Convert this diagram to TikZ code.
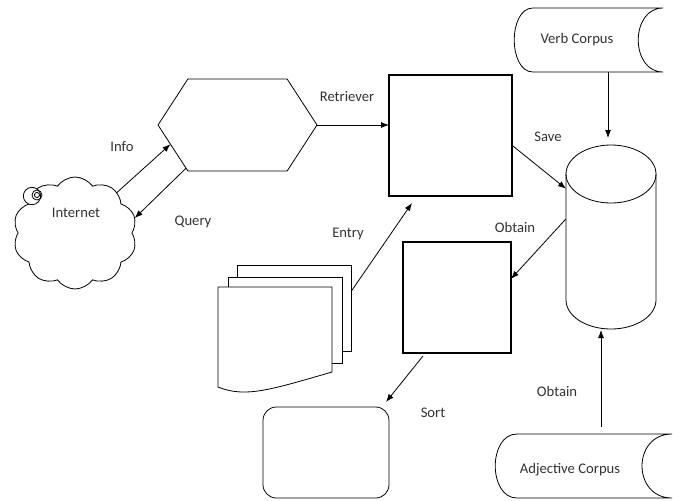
\documentclass[tikz,border=0pt]{standalone}
\usepackage{fontspec}
\setmainfont{Carlito}
\usepackage{tikz}
\usetikzlibrary{shapes.geometric,shapes.symbols,arrows.meta,calc,positioning}

\begin{document}
\begin{tikzpicture}[x=0.75pt, y=-0.75pt, >={Latex[length=6pt,width=4.5pt]}]
	\tikzstyle{every node} = [font=\fontsize{11}{13}\selectfont, text=black!80, inner sep=0pt, outer sep=0pt]
	\tikzstyle{box} = [draw, line width=0.9pt]
	\tikzstyle{thin} = [draw, line width=0.6pt]
	\tikzstyle{sheet} = [draw, fill=white, line width=0.6pt]
	\tikzstyle{link} = [draw, ->, line width=0.6pt]
\useasboundingbox (0,0) rectangle (673,500);
% internet cloud
\node[thin, cloud, cloud puffs=10, cloud puff arc=110, minimum width=93pt, minimum height=84pt] (cloud) at (75,233) {};
\draw[line width=0.6pt, fill=white] (32,196) circle [radius=6.5pt];
\draw[line width=0.6pt] (37,195) circle [radius=3.75pt];
\draw[line width=0.6pt] (37,195) circle [radius=1.9pt];
\node (inet) at (76,213) {Internet};
% hexagon
\node[thin, signal, signal to=west and east, signal pointer angle=114, minimum width=119.25pt, minimum height=69pt] (hex) at (237.5,125) {};
% boxes
\node[box, minimum width=92.25pt, minimum height=90.75pt] (ret) at (450.5,135.5) {};
\node[box, minimum width=81pt, minimum height=83.25pt] (sel) at (457,297.5) {};
\node[thin, rounded corners=10pt, minimum width=94.5pt, minimum height=68.25pt] (sorted) at (326,452.5) {};
% documents
\node[sheet, minimum width=85.5pt, minimum height=64.5pt] (doc3) at (294,308) {};
\node[sheet, minimum width=85.5pt, minimum height=64.5pt] (doc2) at (285,320) {};
\path[sheet] (218,287) -- (332,287) -- (332,372) .. controls (270,390) and (245,398) .. (218,387) -- cycle;
% database
\node[minimum width=67.5pt, minimum height=138pt] (cyl) at (611,237) {};
\draw[line width=0.6pt] (566,174) -- (566,300) arc [start angle=180, end angle=360, x radius=33.75pt, y radius=21.75pt] -- (656,174);
\draw[line width=0.6pt] (611,174) ellipse [x radius=33.75pt, y radius=21.75pt];
% corpora
\node[minimum width=97.5pt, minimum height=48pt] (verb) at (598,40) {};
\path[thin] (533,8) -- (663,8) .. controls (630,8) and (630,72) .. (663,72) -- (533,72) .. controls (508,72) and (508,8) .. cycle;
\node (verbT) at (577,40) {Verb Corpus};
\node[minimum width=116.25pt, minimum height=48pt] (adj) at (594.5,466) {};
\path[thin] (517,434) -- (672,434) .. controls (632,434) and (632,498) .. (672,498) -- (517,498) .. controls (488,498) and (488,434) .. cycle;
\node (adjT) at (570,470) {Adjective Corpus};
% connectors
\path[link] (cloud.44) -- (hex.196);
\path[link] (hex.220) -- (cloud.14);
\path[link] (hex.east) -- (hex.east -| ret.west);
\path[link] (ret.-9) -- (cyl.133);
\path[link] (cyl.158) -- (sel.19);
\path[link] (doc3.16) -- ($(ret.south west)+(23,7)$);
\path[link] ($(sel.south west)+(20,3)$) -- ($(sorted.north east)+(-3,-5)$);
\path[link] ($(verb.south)+(10,0)$) -- ($(cyl.north)+(-3,-7)$);
\path[link] ($(adj.north)+(6.5,-7)$) -- ($(cyl.south)+(-10,1)$);
% labels
\node (lInfo) at (122,147) {Info};
\node (lQuery) at (193,222) {Query};
\node (lRet) at (347,97) {Retriever};
\node (lSave) at (548,137) {Save};
\node (lEntry) at (348,234) {Entry};
\node (lObt1) at (515,227) {Obtain};
\node (lSort) at (433,413) {Sort};
\node (lObt2) at (557,391) {Obtain};
\end{tikzpicture}
\end{document}
